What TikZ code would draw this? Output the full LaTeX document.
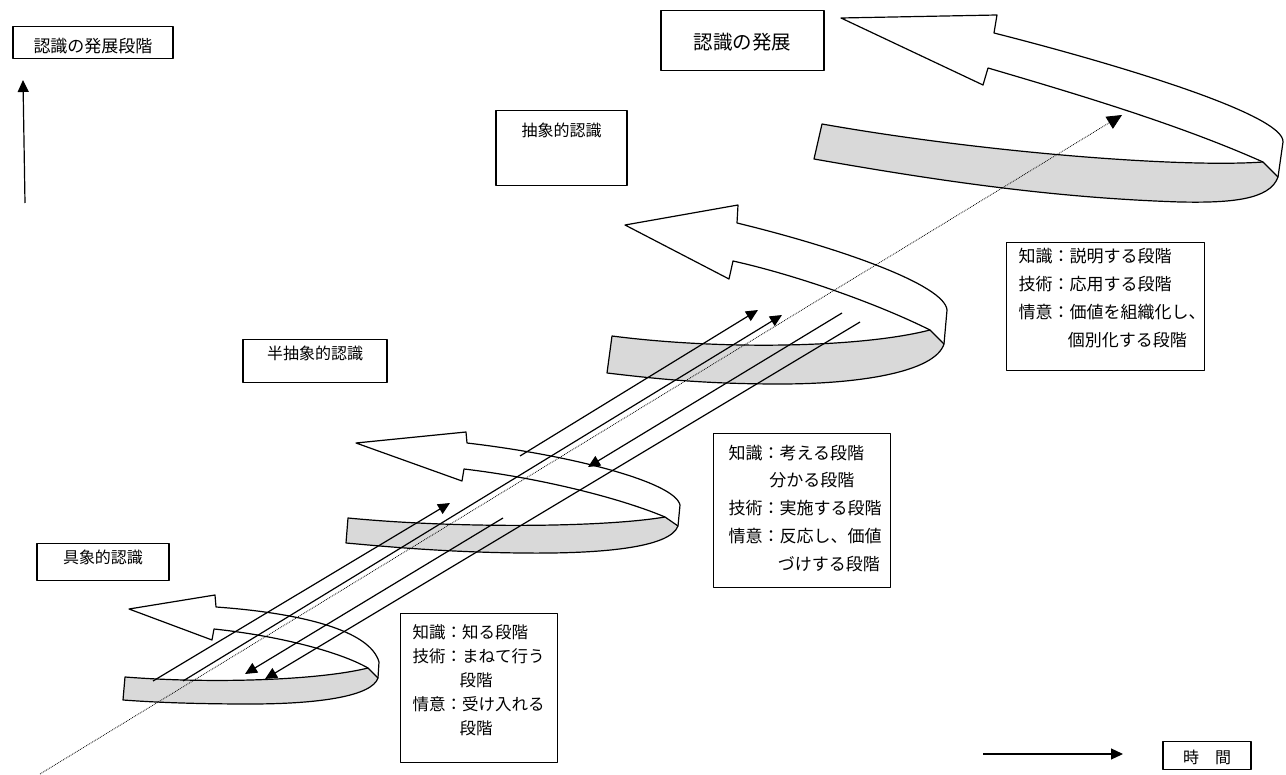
\documentclass[tikz,border=0pt]{standalone}
\usepackage{fontspec}
\newfontfamily\jpfont{Noto Sans CJK JP}
\usetikzlibrary{arrows.meta}
\definecolor{bandgray}{RGB}{217,217,217}

\begin{document}
\begin{tikzpicture}[x=1pt, y=1pt, yscale=-1, line width=1.2pt, line join=round,
  tip/.style={-{Triangle[length=12pt,width=11pt]}},
  band/.style={fill=bandgray, draw=black},
  stage/.style={draw, line width=1.2pt, inner sep=0pt, anchor=north,
    font=\jpfont\fontsize{16}{24}\selectfont},
  note/.style={draw, line width=1.2pt, inner ysep=0pt, anchor=north west, align=left}]
\useasboundingbox (0,0) rectangle (1286,775);

% spiral 1 (bottom)
\path[band] (125,677) .. controls (215,684) and (320,680) .. (368,668) -- (378,678)
  .. controls (372,696) and (320,704) .. (250,704) .. controls (190,704) and (150,702) .. (123,700) -- cycle;
\draw (368,668) .. controls (340,652) and (280,636) .. (214,629) -- (212,640) -- (129,609)
  -- (215,595) -- (216,607) .. controls (300,613) and (370,630) .. (379,662) -- (378,678);

% spiral 2
\path[band] (348,518) .. controls (450,528) and (600,528) .. (665,517) -- (678,526)
  .. controls (670,548) and (600,554) .. (520,553) .. controls (440,552) and (380,546) .. (346,543) -- cycle;
\draw (665,517) .. controls (620,498) and (540,478) .. (464,469) -- (462,481) -- (356,443)
  -- (466,432) -- (467,443) .. controls (570,455) and (675,482) .. (680,505) -- (678,526);

% spiral 3
\path[band] (612,336) .. controls (720,350) and (860,348) .. (930,330) -- (944,344)
  .. controls (935,372) and (860,384) .. (780,384) .. controls (700,384) and (650,378) .. (607,373) -- cycle;
\draw (930,330) .. controls (880,305) and (800,276) .. (733,261) -- (729,279) -- (625,225)
  -- (738,205) -- (737,223) .. controls (840,248) and (945,285) .. (947,310) -- (944,344);

% spiral 4 (top)
\path[band] (822,124) .. controls (980,152) and (1180,168) .. (1263,162) -- (1278,177)
  .. controls (1270,200) and (1230,203) .. (1180,202) .. controls (1060,198) and (950,183) .. (814,159) -- cycle;
\draw (1263,162) .. controls (1180,125) and (1080,95) .. (988,68) -- (983,85) -- (841,18)
  -- (997,15) -- (994,33) .. controls (1120,65) and (1285,115) .. (1283,142) -- (1278,177);

% connecting lines
\coordinate (u1) at (153,681); \coordinate (u1t) at (450,503);
\coordinate (u2) at (520,456); \coordinate (u2t) at (758,310);
\coordinate (u3) at (183,681); \coordinate (u3t) at (782,315);
\coordinate (d1) at (842,313); \coordinate (d1t) at (588,467);
\coordinate (d2) at (503,518); \coordinate (d2t) at (245,674);
\coordinate (d3) at (860,322); \coordinate (d3t) at (265,679);
\coordinate (diag0) at (40,774); \coordinate (diag1) at (1122,115);
\draw[tip] (u1) -- (u1t);
\draw[tip] (u2) -- (u2t);
\draw[tip] (u3) -- (u3t);
\draw[tip] (d1) -- (d1t);
\draw[tip] (d2) -- (d2t);
\draw[tip] (d3) -- (d3t);
\draw[-{Triangle[length=15pt,width=14pt]}, line width=0.8pt, densely dotted] (diag0) -- (diag1);

% axes
\coordinate (vbot) at (25,203); \coordinate (vtop) at (23,80);
\coordinate (tstart) at (983,754); \coordinate (tend) at (1123,754);
\draw[tip] (vbot) -- (vtop);
\draw[tip] (tstart) -- (tend);

% titles
\node[stage, minimum width=160pt, text height=25.5pt, text depth=6.5pt,
  font=\jpfont\fontsize{17}{20}\selectfont] (axisbox) at (93,26) {認識の発展段階};
\node[stage, minimum width=163pt, text height=39.4pt, text depth=20.6pt,
  font=\jpfont\fontsize{19.5}{22}\selectfont] (growbox) at (742.5,10) {認識の発展};
\node[stage, minimum width=131pt, text height=26pt, text depth=49pt] (abstractbox) at (561.5,110) {抽象的認識};
\node[stage, minimum width=144pt, text height=20pt, text depth=23pt] (semibox) at (315,339) {半抽象的認識};
\node[stage, minimum width=132pt, text height=20pt, text depth=17pt] (concretebox) at (103,543) {具象的認識};
\node[stage, minimum width=88pt, text height=22pt, text depth=6pt] (timebox) at (1207,741) {時　間};

% stage notes
\node[note, text width=133pt, inner xsep=12pt, text height=25pt, text depth=124pt,
  font=\jpfont\fontsize{16.5}{24}\selectfont] (know1) at (400,613)
  {知識：知る段階\\技術：まねて行う\\\hspace*{2.85em}段階\\情意：受け入れる\\\hspace*{2.85em}段階};
\node[note, text width=147pt, inner xsep=15pt, text height=25.5pt, text depth=128.5pt,
  font=\jpfont\fontsize{17}{27.75}\selectfont] (know2) at (713,433)
  {知識：考える段階\\\hspace*{2.4em}分かる段階\\技術：実施する段階\\情意：反応し、価値\\\hspace*{2.9em}づけする段階};
\node[note, text width=174pt, inner xsep=12pt, text height=19.5pt, text depth=108.5pt,
  font=\jpfont\fontsize{17}{28}\selectfont] (know3) at (1006,242)
  {知識：説明する段階\\技術：応用する段階\\情意：価値を組織化し、\\\hspace*{2.9em}個別化する段階};
\end{tikzpicture}
\end{document}
